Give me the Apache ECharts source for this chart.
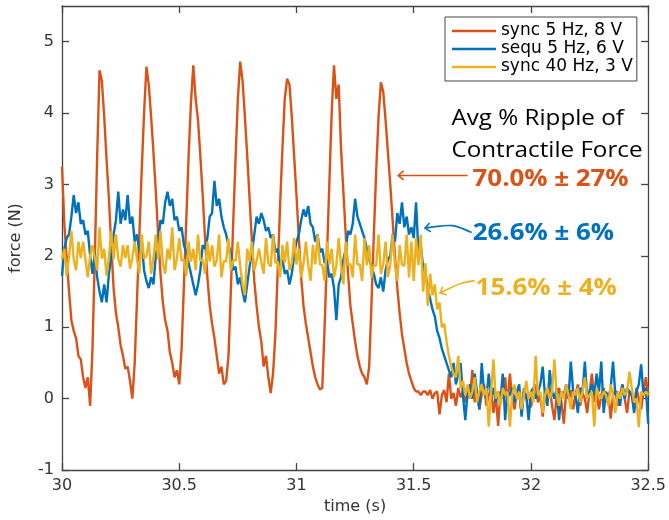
<!DOCTYPE html>
<html><head><meta charset="utf-8">
<script src="https://cdn.jsdelivr.net/npm/echarts@6/dist/echarts.min.js"></script>
<style>html,body{margin:0;padding:0;background:#fff}#c{width:669px;height:520px}</style>
</head><body><div id="c"></div>
<script>
// sampling of the traces
const startTime = 30.0;
const sampleStep = 0.01;

const seriesNames = ['sync 5 Hz, 8 V', 'sequ 5 Hz, 6 V', 'sync 40 Hz, 3 V'];
const seriesColors = ['#D95319', '#0072BD', '#EDB120'];

// sync 5 Hz, 8 V  (one row = 0.1 s)
const syncFive = [
  3.25, 2.45, 1.95, 1.5, 1.1, 0.95, 0.85, 0.6, 0.55, 0.3,
  0.15, 0.3, -0.1, 0.7, 2.0, 3.4, 4.6, 4.45, 3.95, 3.35,
  2.8, 2.15, 1.55, 1.2, 1.0, 0.75, 0.6, 0.42, 0.45, 0.25,
  0.0, 0.5, 1.4, 2.3, 3.2, 4.0, 4.65, 4.4, 3.95, 3.45,
  2.9, 2.3, 1.75, 1.35, 1.1, 0.95, 0.65, 0.5, 0.3, 0.4,
  0.2, 0.7, 1.6, 2.5, 3.4, 4.15, 4.67, 4.2, 3.9, 3.4,
  2.85, 2.25, 1.7, 1.3, 1.05, 0.85, 0.6, 0.35, 0.45, 0.2,
  0.25, 0.6, 1.5, 2.45, 3.35, 4.2, 4.72, 4.45, 3.95, 3.4,
  2.8, 2.2, 1.65, 1.3, 1.0, 0.8, 0.45, 0.6, 0.3, 0.08,
  0.35, 0.9, 1.8, 2.7, 3.5, 4.2, 4.48, 4.4, 3.95, 3.4,
  2.85, 2.25, 1.7, 1.3, 1.05, 0.85, 0.65, 0.45, 0.3, 0.2,
  0.13, 0.15, 1.0, 2.0, 3.0, 4.0, 4.67, 4.2, 4.4, 3.5,
  2.9, 2.3, 1.75, 1.3, 1.05, 0.8, 0.6, 0.45, 0.35, 0.3,
  0.2, 0.45, 1.35, 2.3, 3.2, 3.95, 4.43, 4.3, 3.9, 3.45,
  3.0, 2.5, 2.0, 1.55, 1.2, 0.9, 0.7, 0.5, 0.35, 0.25,
  0.15, 0.1, 0.1, 0.05, 0.1, 0.1, 0.05, 0.12, 0.0, 0.08,
  0.1, -0.22, 0.05, 0.12, -0.05, 0.35, 0.0, 0.08, -0.1, 0.15,
  0.02, 0.1, -0.05, 0.08, 0.0, 0.4, -0.05, 0.1, -0.15, 0.05,
  0.2, -0.1, 0.05, 0.12, -0.2, 0.05, -0.38, 0.1, 0.0, 0.3,
  -0.1, 0.35, 0.0, -0.15, 0.1, 0.05, -0.2, 0.15, 0.0, 0.08,
  -0.12, 0.1, 0.2, -0.05, 0.05, -0.25, 0.1, 0.0, 0.15, -0.1,
  -0.3, 0.05, 0.15, -0.05, -0.35, 0.1, 0.0, 0.12, -0.15, 0.05,
  0.2, -0.1, 0.08, 0.0, -0.2, 0.1, 0.35, -0.05, 0.1, -0.15,
  0.05, 0.15, -0.05, 0.08, -0.28, 0.05, 0.12, -0.1, 0.05, 0.2,
  0.0, -0.2, 0.1, 0.05, -0.1, 0.15, 0.0, -0.15, 0.1, 0.3,
  0.05
];

// sequ 5 Hz, 6 V
const sequFive = [
  1.72, 2.1, 2.25, 2.3, 2.55, 2.85, 2.6, 2.75, 2.45, 2.5,
  2.3, 2.35, 2.0, 1.75, 2.05, 1.7, 1.5, 1.35, 1.6, 1.35,
  1.75, 2.0, 2.3, 2.5, 2.9, 2.45, 2.65, 2.5, 2.85, 2.45,
  2.55, 2.2, 2.3, 2.05, 2.2, 1.8, 1.65, 1.55, 1.7, 1.6,
  2.0, 2.2, 2.5, 2.45, 2.75, 2.9, 2.7, 2.8, 2.5, 2.55,
  2.35, 2.4, 2.15, 2.05, 1.9, 1.75, 1.6, 1.45, 1.6, 1.8,
  2.15, 2.1, 2.25, 2.55, 2.6, 3.05, 2.7, 2.8, 2.55, 2.4,
  2.3, 2.15, 2.05, 1.8, 1.85, 1.6, 1.7, 1.5, 1.35, 1.6,
  1.85, 2.05, 2.3, 2.55, 2.45, 2.6, 2.5, 2.35, 2.4, 2.25,
  2.3, 2.05, 2.1, 1.85, 1.95, 1.75, 1.8, 1.6, 1.75, 2.0,
  2.2, 2.3, 2.5, 2.65, 2.55, 2.7, 2.45, 2.4, 2.2, 2.3,
  2.05, 2.1, 1.9, 1.95, 1.7, 1.75, 1.55, 1.1, 1.6, 1.7,
  1.95, 2.1, 2.35, 2.3, 2.45, 2.8, 2.55, 2.45, 2.35, 2.25,
  2.1, 1.95, 1.85, 1.75, 1.6, 1.55, 1.7, 1.5, 1.8, 1.95,
  2.0, 2.3, 2.2, 2.6, 2.45, 2.75, 2.4, 2.55, 2.3, 2.4,
  2.25, 2.75, 2.05, 2.15, 1.85, 1.75, 1.55, 1.4, 1.25, 1.15,
  0.95, 0.85, 0.7, 0.6, 0.5, 0.4, 0.3, 0.5, 0.2, 0.35,
  0.5, 0.05, -0.3, 0.1, 0.2, 0.0, 0.35, 0.1, -0.15, 0.5,
  0.1, 0.0, 0.35, 0.05, 0.15, -0.05, 0.1, 0.0, 0.35, -0.3,
  0.1, 0.05, 0.15, -0.05, 0.1, 0.2, -0.25, 0.1, 0.05, -0.3,
  0.1, 0.15, 0.0, 0.1, 0.2, 0.45, 0.05, -0.1, 0.4, 0.1,
  0.0, 0.15, -0.3, 0.1, 0.05, 0.2, 0.0, 0.52, 0.1, 0.05,
  -0.2, 0.15, 0.1, 0.52, 0.0, 0.1, 0.2, 0.05, 0.35, 0.1,
  0.52, -0.2, 0.1, 0.0, 0.15, 0.52, 0.05, 0.1, -0.1, 0.2,
  0.0, 0.15, 0.1, 0.05, -0.2, 0.1, 0.2, 0.48, 0.05, 0.15,
  -0.35
];

// sync 40 Hz, 3 V
const syncForty = [
  1.95, 2.1, 1.72, 1.98, 2.35, 1.95, 1.8, 2.2, 1.97, 2.2,
  1.95, 1.7, 2.0, 2.15, 1.97, 1.8, 2.4, 1.96, 2.1, 1.72,
  1.98, 2.35, 1.95, 2.3, 1.96, 1.85, 2.15, 1.97, 2.15, 1.82,
  1.97, 2.2, 1.95, 1.75, 2.3, 1.96, 2.0, 2.2, 1.75, 1.97,
  2.3, 1.95, 2.35, 1.9, 1.75, 2.1, 1.95, 2.4, 1.8, 1.96,
  2.25, 1.93, 1.95, 1.72, 2.2, 1.92, 2.1, 1.8, 2.3, 1.93,
  1.95, 1.75, 2.2, 1.92, 2.15, 1.85, 1.94, 2.3, 1.7, 1.93,
  1.92, 2.25, 1.8, 1.94, 1.93, 2.2, 1.85, 1.6, 1.45, 2.1,
  1.92, 2.2, 1.8, 1.93, 2.1, 1.91, 1.75, 2.25, 1.9, 1.85,
  2.3, 1.9, 1.92, 1.7, 2.15, 1.91, 2.2, 1.8, 1.9, 2.25,
  1.88, 2.1, 1.7, 1.89, 2.2, 1.87, 1.65, 2.15, 1.88, 2.3,
  1.88, 1.87, 1.65, 2.2, 1.88, 2.1, 1.7, 1.87, 2.25, 1.88,
  1.6, 2.2, 1.87, 1.89, 1.7, 2.3, 1.88, 1.88, 1.65, 2.25,
  1.87, 2.15, 1.7, 1.88, 1.86, 2.3, 1.75, 1.88, 2.2, 1.7,
  1.88, 2.3, 1.87, 1.65, 2.15, 1.88, 1.86, 2.3, 1.7, 2.2,
  1.65, 2.25, 1.87, 2.3, 1.5, 1.9, 1.3, 1.75, 1.45, 1.6,
  1.25, 1.35, 1.0, 1.05, 0.8, 0.6, 0.45, 0.35, 0.3, 0.6,
  0.15, 0.25, 0.05, 0.2, 0.0, 0.1, 0.3, -0.05, 0.1, 0.2,
  0.05, 0.15, -0.39, 0.1, 0.55, 0.0, 0.1, -0.1, 0.15, 0.05,
  0.1, -0.39, 0.05, 0.2, 0.0, 0.1, -0.15, 0.05, 0.25, 0.0,
  0.1, -0.05, 0.6, 0.05, 0.1, -0.2, 0.05, 0.15, 0.0, 0.1,
  0.55, 0.05, -0.1, 0.1, 0.0, 0.2, 0.05, -0.15, 0.1, 0.05,
  0.15, -0.05, 0.1, 0.3, 0.0, 0.05, 0.1, -0.39, 0.15, 0.05,
  0.0, 0.1, 0.05, -0.1, 0.2, 0.05, -0.2, 0.1, 0.0, 0.15,
  0.05, 0.1, 0.38, 0.15, -0.05, 0.0, -0.4, 0.1, 0.05, 0.1,
  0.05
];

// annotation texts and their anchors (data coordinates: [time, force])
const annotationTitle = ['Avg % Ripple of', 'Contractile Force'];
const annotationTitleAnchors = [[31.661, 3.922], [31.661, 3.468]];
const rippleLabels = ['70.0% \u00b1 27%', '26.6% \u00b1 6%', '15.6% \u00b1 4%'];
const rippleLabelAnchors = [[31.751, 3.078], [31.752, 2.313], [31.764, 1.551]];
const arrowPaths = [
  [[31.730, 3.127], [31.434, 3.127]],
  [[31.747, 2.327], [31.709, 2.382], [31.667, 2.424], [31.612, 2.417], [31.548, 2.389]],
  [[31.760, 1.654], [31.703, 1.617], [31.654, 1.547], [31.612, 1.478]]
];

const toPairs = arr => arr.map((v, i) => [+(startTime + i * sampleStep).toFixed(2), v]);

const axisColor = '#444';
const labelColor = '#333';
const tickFont = 'DejaVu Sans';
const traceWidth = 2.4;

const chart = echarts.init(document.getElementById('c'), null, {renderer: 'canvas'});

function xAx(pos, main) {
  return {
    type: 'value', min: 30, max: 32.5, interval: 0.5, position: pos,
    axisLine: {show: true, onZero: false, lineStyle: {color: axisColor, width: 1.3}},
    axisTick: {show: true, inside: true, length: 7, lineStyle: {color: axisColor, width: 1.3}},
    axisLabel: {show: main, color: labelColor, fontFamily: tickFont, fontSize: 16, margin: 8},
    splitLine: {show: false},
    name: main ? 'time (s)' : '', nameLocation: 'middle', nameGap: 28,
    nameTextStyle: {color: labelColor, fontFamily: tickFont, fontSize: 16}
  };
}
function yAx(pos, main) {
  return {
    type: 'value', min: -1, max: 5.5, interval: 1, position: pos,
    axisLine: {show: true, onZero: false, lineStyle: {color: axisColor, width: 1.3}},
    axisTick: {show: true, inside: true, length: 7, lineStyle: {color: axisColor, width: 1.3}},
    axisLabel: {show: main, color: labelColor, fontFamily: tickFont, fontSize: 16, margin: 8, showMaxLabel: false},
    splitLine: {show: false},
    name: main ? 'force (N)' : '', nameLocation: 'middle', nameGap: 38,
    nameTextStyle: {color: labelColor, fontFamily: tickFont, fontSize: 16}
  };
}

const traces = [syncFive, sequFive, syncForty];

chart.setOption({
  animation: false,
  backgroundColor: '#fff',
  grid: {left: 59, right: 19, top: 6, bottom: 47, containLabel: false},
  xAxis: [xAx('bottom', true), xAx('top', false)],
  yAxis: [yAx('left', true), yAx('right', false)],
  legend: {
    data: seriesNames.map(n => ({name: n, icon: 'rect'})),
    orient: 'vertical', left: 445, top: 17,
    itemWidth: 44, itemHeight: 2.6, itemGap: 0,
    padding: [5, 4, 5, 7],
    borderColor: axisColor, borderWidth: 1, backgroundColor: '#fff',
    textStyle: {fontFamily: tickFont, fontSize: 17, color: '#000', lineHeight: 18}
  },
  series: traces.map((arr, k) => ({
    name: seriesNames[k], type: 'line', xAxisIndex: 0, yAxisIndex: 0,
    data: toPairs(arr), showSymbol: false, symbol: 'none',
    lineStyle: {color: seriesColors[k], width: traceWidth},
    itemStyle: {color: seriesColors[k]},
    emphasis: {disabled: true}, silent: true
  }))
});

function px(p) { return chart.convertToPixel({xAxisIndex: 0, yAxisIndex: 0}, p); }
function arrowHead(tip, from, len, ang) {
  const dx = tip[0] - from[0], dy = tip[1] - from[1];
  const L = Math.hypot(dx, dy);
  const bx = -dx / L, by = -dy / L;
  const rot = a => [tip[0] + len * (bx * Math.cos(a) - by * Math.sin(a)),
                    tip[1] + len * (bx * Math.sin(a) + by * Math.cos(a))];
  return [rot(ang), tip, rot(-ang)];
}

const graphics = [];
annotationTitle.forEach((t, i) => {
  const p = px(annotationTitleAnchors[i]);
  graphics.push({type: 'text', x: p[0], y: p[1], scaleX: 1.1, silent: true,
    style: {text: t, x: 0, y: 0, fill: '#000', fontFamily: 'Open Sans', fontSize: 22,
            align: 'left', verticalAlign: 'middle'}});
});
rippleLabels.forEach((t, i) => {
  const p = px(rippleLabelAnchors[i]);
  graphics.push({type: 'text', x: p[0], y: p[1], scaleX: 1.1, silent: true,
    style: {text: t, x: 0, y: 0, fill: seriesColors[i], fontFamily: 'Open Sans', fontWeight: 'bold', fontSize: 23.5,
            align: 'left', verticalAlign: 'middle'}});
});
arrowPaths.forEach((path, i) => {
  const pts = path.map(px);
  graphics.push({type: 'polyline', silent: true, shape: {points: pts, smooth: i === 0 ? 0 : 0.4},
    style: {stroke: seriesColors[i], lineWidth: 1.6, fill: 'none'}});
  const tip = pts[pts.length - 1], from = pts[pts.length - 2];
  graphics.push({type: 'polyline', silent: true, shape: {points: arrowHead(tip, from, 7, 0.7)},
    style: {stroke: seriesColors[i], lineWidth: 1.6, fill: 'none'}});
});
chart.setOption({graphic: graphics});
</script></body></html>
